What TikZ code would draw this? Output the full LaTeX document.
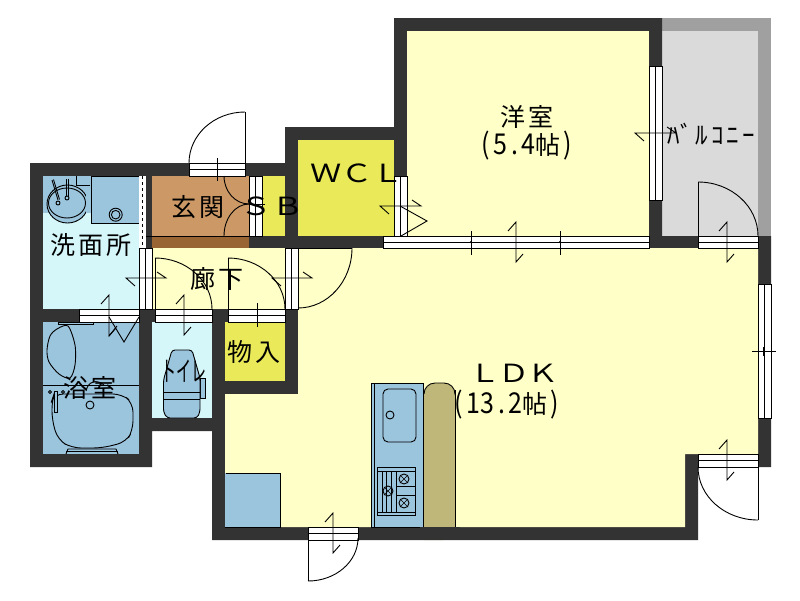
\documentclass[tikz,border=0pt]{standalone}
\usepackage{fontspec}
\usepackage{graphicx}
\usetikzlibrary{calc}
\newfontfamily\cjk{Noto Sans CJK JP}
\definecolor{wallc}{HTML}{333333}
\definecolor{roomy}{HTML}{FFFFC8}
\definecolor{closety}{HTML}{E9E95A}
\definecolor{entryb}{HTML}{CC9966}
\definecolor{entryd}{HTML}{996633}
\definecolor{wetb}{HTML}{9BC4DD}
\definecolor{wetc}{HTML}{D6F7FA}
\definecolor{balcl}{HTML}{DADADA}
\definecolor{balcd}{HTML}{A0A0A0}
\definecolor{countert}{HTML}{BFB77A}
\tikzset{
  ln/.style={draw=black,line width=0.9pt},
  lbl/.style={inner sep=0pt,font=\cjk\fontsize{25}{27}\selectfont,text=black}
}
\newcommand\hw[1]{\makebox[14.2pt][c]{\scalebox{1}[1.15]{#1}}}
\newcommand\widel[1]{\scalebox{1.25}[1]{#1}}
\newcommand\hframe[3]{\draw[ln,fill=white] (#1,#3) rectangle (#2,#3+12.5); \draw[ln] (#1,#3+6.25) -- (#2,#3+6.25);}
\newcommand\vframe[3]{\draw[ln,fill=white] (#3,#1) rectangle (#3+12.5,#2); \draw[ln] (#3+6.25,#1) -- (#3+6.25,#2);}
\newcommand\vbrk[3]{\draw[ln] (#1-8,#2+9) -- (#1,#2) -- (#1,#3) -- (#1+7,#3-8);}
\newcommand\hbrk[3]{\draw[ln] (#2+9,#1+8) -- (#2,#1) -- (#3,#1) -- (#3-9,#1-6);}
\newcommand\qarc[6]{\draw[ln] (#1,#2) .. controls ($(#1,#2)!.552!(#5,#6)$) and ($(#3,#4)!.552!(#5,#6)$) .. (#3,#4);}
\begin{document}
\begin{tikzpicture}[x=1pt,y=-1pt]
\useasboundingbox (0,0) rectangle (800,600);
\fill[white] (0,0) rectangle (800,600);
% balcony
\fill[balcd] (662,18) rectangle (771,240);
\fill[balcl] (662,31) rectangle (758,236);
% walls
\fill[wallc] (30,163) -- (285,163) -- (285,127) -- (394,127) -- (394,18) -- (662,18) -- (662,236) -- (771,236) -- (771,467) -- (698,467) -- (698,540) -- (212,540) -- (212,431) -- (152,431) -- (152,467) -- (30,467) -- cycle;
% rooms
\fill[roomy] (407,31) rectangle (649,236);
\fill[closety] (298,140) rectangle (394,236);
\fill[closety] (262,176) rectangle (285,236);
\fill[closety] (225,322) rectangle (285,381);
\fill[entryb] (152,176) rectangle (249,236);
\fill[entryd] (152,236) rectangle (249,248);
\draw[ln] (146,236) -- (249,236);
\fill[roomy] (152,248) rectangle (285,309);
\fill[roomy] (298,248) -- (758,248) -- (758,454) -- (685,454) -- (685,527) -- (225,527) -- (225,394) -- (298,394) -- cycle;
\fill[wetc] (43,176) rectangle (139,309);
\fill[wetc] (152,322) rectangle (212,418);
\fill[wetb] (43,322) rectangle (139,454);
% washroom fixtures
\fill[wetb] (43,176) rectangle (92,213);
\draw[ln,fill=wetb] (67.5,204) ellipse [x radius=20.5,y radius=19];
\draw[ln] (67,203) ellipse [x radius=18.5,y radius=15];
\fill[wetb] (86,176) rectangle (92,213);
\draw[ln] (76,176) -- (76,185) -- (90,185);
\draw[ln,fill=wetb] (91,176) rectangle (139,223);
\draw[ln] (115.7,214.7) circle (6.5);
\draw[ln] (115.7,214.7) circle (4.3);
\draw[ln] (52,180) -- (58,200);
\draw[ln] (53.5,179.5) -- (59.5,199.5);
\draw[ln] (58,203) circle (2);
\draw[ln] (66,179) -- (66,196);
\draw[ln] (68,179) -- (68,196);
\draw[ln] (67,198) circle (2);
\fill[white] (139,176) rectangle (146,248);
\draw[line width=1pt,dashed,black] (142,176) -- (142,246);
% bath fixtures
\draw[ln] (43,385) -- (139,385);
\draw[ln,fill=wetb] (58,322) rectangle (93,324.5);
\draw[ln] plot[smooth cycle] coordinates {(68,326) (75,345) (75,365) (70,378) (59,374) (49,362) (47,350) (50,336) (57,329)};
\draw[ln] (86,391) .. controls (88,381) and (97,379) .. (104,385);
\draw[ln,rounded corners=9pt,fill=wetb] (54,394) -- (122,394) -- (133,403) -- (133,430) -- (126,442) -- (102,448) -- (72,448) -- (58,440) -- (52,420) -- (52,400) -- cycle;
\draw[ln] (66,454) -- (68,449) -- (116,449) -- (118,454);
\draw[ln] (66,451) -- (118,451);
\draw[ln] (90,405) circle (4);
\draw[ln] (50,392) circle (1.5);
\draw[ln] (63,392) circle (1.5);
\draw[ln,fill=wetb] (54,391) rectangle (57,412);
% toilet fixture
\draw[ln,fill=wetb] (200,378) rectangle (205,398);
\draw[ln,fill=wetb,rounded corners=3pt] (172,350) -- (192,350) -- (200,378) -- (200,412) -- (197,418) -- (167,418) -- (163.5,412) -- (163.5,380) -- cycle;
\draw[ln] (163.5,392) -- (200,392);
\draw[ln] (163.5,399.5) -- (200,399.5);
% kitchen
\draw[ln,fill=wetb] (371.5,383) rectangle (423,527);
\draw[ln] (374,383) -- (374,527);
\draw[ln,rounded corners=5pt] (383,389) rectangle (416,442);
\draw[ln] (390,415) circle (4);
\draw[ln] (377,467.5) rectangle (415,515);
\draw[ln] (377,471) -- (415,471);
\draw[ln] (377,512) -- (415,512);
\draw[ln] (396,471) -- (396,512);
\draw[ln] (382,471) -- (382,512);
\draw[ln] (386,471) -- (386,512);
\draw[ln] (391,471) -- (391,512);
\draw[ln] (396,486) -- (415,486);
\draw[ln] (396,495) -- (415,495);
\foreach \bx/\by in {404/479,404/503,388/491}{
  \draw[ln] (\bx,\by) circle (5);
  \draw[line width=0.5pt] (\bx-4,\by-4) -- (\bx+4,\by+4) (\bx-4,\by+4) -- (\bx+4,\by-4);
}
\fill[countert,rounded corners=12pt] (424,540) -- (424,383) -- (455,383) -- (455,540) [sharp corners] -- cycle;
\fill[wallc] (420,527) rectangle (460,540);
\draw[ln,rounded corners=11pt] (424,392) -- (424,383) -- (455,383) -- (455,395);
\draw[ln] (455,390) -- (455,527);
\draw[ln,fill=wetb] (225,473) -- (280,473) -- (280,527) -- (225,527);
\fill[wetb] (225,473) rectangle (225.5,527);
% frames
\hframe{189}{245}{163.5}
\hframe{79}{139}{309.5}
\hframe{155}{212}{309.5}
\hframe{228}{285}{309.5}
\hframe{383}{649}{236}
\hframe{698}{758}{236}
\hframe{698}{758}{454.5}
\hframe{308}{358}{527.5}
\vframe{176}{236}{249.5}
\vframe{248}{309}{139.5}
\vframe{248}{309}{285.5}
\vframe{176}{236}{394.5}
\vframe{66.5}{200}{649.5}
\vframe{284}{418}{758.5}
% door swings
\draw[ln] (245,163) -- (245,112);
\qarc{245}{112}{189}{163}{189}{112}
\draw[ln] (155,309) -- (155,258);
\qarc{155}{258}{212}{309}{212}{258}
\draw[ln] (228,309) -- (228,258);
\qarc{228}{258}{285}{309}{285}{258}
\draw[ln] (298,248) -- (352,248);
\qarc{352}{248}{298}{308}{352}{308}
\draw[ln] (698,236) -- (698,182);
\qarc{698}{182}{758}{236}{758}{182}
\draw[ln] (758,467) -- (758,520);
\qarc{758}{520}{698}{467}{698}{520}
\draw[ln] (308,540) -- (308,581);
\qarc{308}{581}{358}{538}{358}{581}
\qarc{224}{176}{249}{204}{224}{204}
\qarc{249}{204}{224}{236}{224}{204}
\draw[ln] (249,204) -- (265,204);
% opening symbols
\draw[ln] (217,158) -- (217,181);
\vbrk{184}{295}{335}
\vbrk{109}{295}{336}
\draw[ln] (109,336) -- (117,326);
\draw[ln] (109,317) -- (124,342) -- (139,317);
\draw[ln] (257,303) -- (257,327);
\hbrk{278}{126}{166}
\hbrk{278}{272}{312}
\hbrk{206}{380}{421}
\draw[ln] (400,206) -- (427,221) -- (401,236);
\hbrk{133}{635}{676}
\draw[ln] (471,231) -- (471,255);
\draw[ln] (560,231) -- (560,255);
\fill (471,242) circle (1.2);
\fill (560,242) circle (1.2);
\vbrk{516}{222}{262}
\vbrk{727}{222}{262}
\vbrk{727}{440}{480}
\vbrk{333}{513}{553}
\draw[ln] (752,351.5) -- (776,351.5);
\draw[line width=1.4pt] (764,347) -- (764,356);
% labels
\node[lbl] (yoshitsu) at (527,117) {洋\kern3pt 室};
\node[lbl] (yoshitsua) at (527,146) {\hw{(}\hw{5}\hw{.}\hw{4}帖\hw{)}};
\node[lbl] (genkan) at (198,207) {玄\kern3pt 関};
\node[lbl] (sb) at (272,206) {\widel{Ｓ}\widel{Ｂ}};
\node[lbl] (wcl) at (357,173) {\widel{Ｗ}\widel{Ｃ}\widel{Ｌ}};
\node[lbl] (senmen) at (91,245) {洗\kern3pt 面\kern3pt 所};
\node[lbl] (roka) at (217,279) {廊\kern3pt 下};
\node[lbl] (mono) at (254,352) {物\kern3pt 入};
\node[lbl] (toire) at (184,371) {\scalebox{.6}[1.1]{トイレ}};
\node[lbl] (yoku) at (90,388) {浴\kern3pt 室};
\node[lbl] (balc) at (711,134) {\fontsize{25}{27}\selectfont ﾊﾞ\kern3pt ﾙ\kern3pt ｺ\kern3pt ﾆ\kern3pt ｰ};
\node[lbl] (ldk) at (514,373) {\widel{Ｌ}\kern-2pt\widel{Ｄ}\kern-2pt\widel{Ｋ}};
\node[lbl] (ldka) at (507,405) {\hw{(}\hw{1}\hw{3}\hw{.}\hw{2}帖\hw{)}};
\end{tikzpicture}
\end{document}
